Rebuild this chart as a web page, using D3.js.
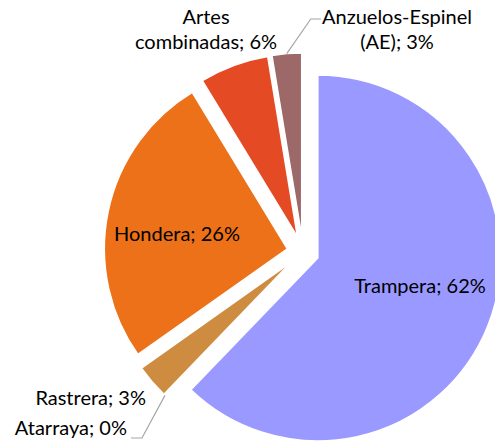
<!DOCTYPE html>
<html>
<head>
<meta charset="utf-8">
<script src="https://cdn.jsdelivr.net/npm/d3@7"></script>
<style>
  html, body { margin: 0; padding: 0; background: #fff; }
  svg { display: block; }
  text { font-family: Lato, "Open Sans", sans-serif; font-size: 20px; fill: #000; }
</style>
</head>
<body>
<svg id="chart" width="495" height="443"></svg>
<script>
// ---- data ----
const categories = ["Trampera", "Atarraya", "Rastrera", "Hondera", "Artes combinadas", "Anzuelos-Espinel (AE)"];
const values = [62.2, 0, 3.0, 26.1, 6.1, 2.6];
const colors = ["#9999FF", "#C0C0C0", "#CE8C40", "#EC7118", "#E44A24", "#9C6868"];
// label lines (text split), per category
const labelLines = [
  ["Trampera; 62%"],
  ["Atarraya; 0%"],
  ["Rastrera; 3%"],
  ["Hondera; 26%"],
  ["Artes", "combinadas; 6%"],
  ["Anzuelos-Espinel", "(AE); 3%"]
];

// ---- layout ----
const W = 495, H = 443;
const cx = 303, cy = 252, R = 183, explode = 16;
// label anchor (x, first baseline y) relative to pie center
const labelPos = [
  { dx: 117, dy: 41, anchor: "middle" },
  { dx: -176, dy: 183, anchor: "end", leader: true },
  { dx: -157, dy: 153, anchor: "end" },
  { dx: -126, dy: -11, anchor: "middle" },
  { dx: -97, dy: -228, anchor: "middle" },
  { dx: 94, dy: -228, anchor: "middle", leader: true }
];

const svg = d3.select("#chart");
const g = svg.append("g").attr("transform", `translate(${cx},${cy})`);

const pie = d3.pie().sort(null).value(d => d.v);
const arcs = pie(values.map((v, i) => ({ v, i })));
const arc = d3.arc().innerRadius(0).outerRadius(R);

function offset(a, dist) {
  const m = (a.startAngle + a.endAngle) / 2;
  return [Math.sin(m) * dist, -Math.cos(m) * dist];
}

g.selectAll("path.slice")
  .data(arcs)
  .join("path")
  .attr("class", "slice")
  .attr("transform", d => { const o = offset(d, explode); return `translate(${o[0]},${o[1]})`; })
  .attr("d", arc)
  .attr("fill", d => colors[d.data.i])
  .attr("stroke", "#fff")
  .attr("stroke-width", 1.5)
  .attr("stroke-linejoin", "round");

// leader lines
arcs.forEach(d => {
  const i = d.data.i;
  const lp = labelPos[i];
  if (!lp.leader) return;
  const o = offset(d, explode);
  const p0 = offset(d, R);
  const start = [o[0] + p0[0], o[1] + p0[1]];
  let pts;
  if (i === 5) {
    const yy = lp.dy - 5;
    pts = [start, [start[0] + 24, yy], [lp.dx - 76, yy]];
  } else {
    const yy = lp.dy + 3;
    pts = [start, [start[0] - 23, yy], [lp.dx + 4, yy]];
  }
  g.append("polyline")
    .attr("points", pts.map(p => p.join(",")).join(" "))
    .attr("fill", "none")
    .attr("stroke", "#A6A6A6")
    .attr("stroke-width", 1.2);
});

// labels
arcs.forEach(d => {
  const i = d.data.i;
  const lp = labelPos[i];
  const t = g.append("text")
    .attr("text-anchor", lp.anchor)
    .attr("x", lp.dx)
    .attr("y", lp.dy);
  labelLines[i].forEach((line, k) => {
    t.append("tspan").attr("x", lp.dx).attr("dy", k === 0 ? 0 : 25).text(line);
  });
});
</script>
</body>
</html>
